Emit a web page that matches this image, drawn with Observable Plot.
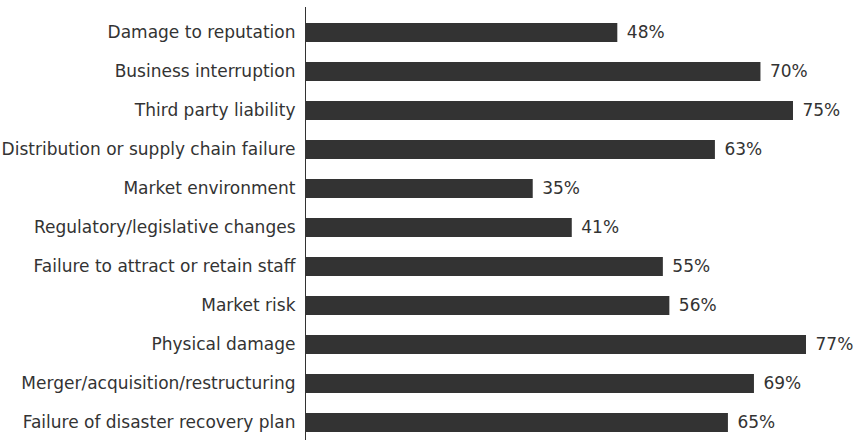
<!DOCTYPE html>
<html>
<head>
<meta charset="utf-8">
<script src="https://cdn.jsdelivr.net/npm/d3@7"></script>
<script src="https://cdn.jsdelivr.net/npm/@observablehq/plot@0.6"></script>
<style>
  html, body { margin: 0; padding: 0; background: #fff; }
</style>
</head>
<body>
<div id="chart"></div>
<script>
const categories = [
  "Damage to reputation",
  "Business interruption",
  "Third party liability",
  "Distribution or supply chain failure",
  "Market environment",
  "Regulatory/legislative changes",
  "Failure to attract or retain staff",
  "Market risk",
  "Physical damage",
  "Merger/acquisition/restructuring",
  "Failure of disaster recovery plan"
];
const values = [48, 70, 75, 63, 35, 41, 55, 56, 77, 69, 65];

const data = categories.map((c, i) => ({category: c, value: values[i]}));

const chart = Plot.plot({
  width: 859,
  height: 440,
  marginLeft: 305,
  marginRight: 53,
  marginTop: 7,
  marginBottom: 0,
  style: {fontFamily: "DejaVu Sans, sans-serif", fontSize: "17px", color: "#333", background: "#fff"},
  x: {domain: [0, 77], axis: null},
  y: {domain: categories, range: [8, 446], paddingInner: 0.52, paddingOuter: 0.26, label: null, tickSize: 0, tickPadding: 10},
  marks: [
    Plot.barX(data, {x: "value", y: "category", fill: "#333"}),
    Plot.ruleX([0], {stroke: "#333", strokeWidth: 1}),
    Plot.text(data, {x: "value", y: "category", text: d => d.value + "%", textAnchor: "start", dx: 9, fill: "#333", fontSize: 17})
  ]
});
document.getElementById("chart").appendChild(chart);
</script>
</body>
</html>
